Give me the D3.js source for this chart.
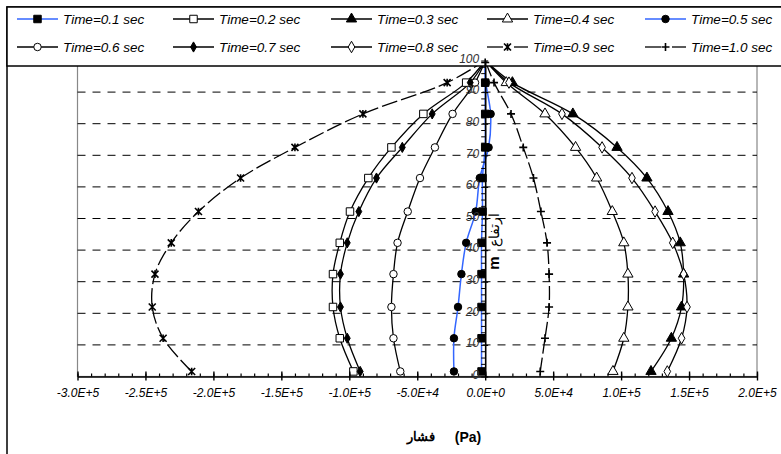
<!DOCTYPE html>
<html>
<head>
<meta charset="utf-8">
<script src="https://cdn.jsdelivr.net/npm/d3@7"></script>
<style>
html,body{margin:0;padding:0;background:#fff;}
svg{display:block;font-family:"Liberation Sans",Arial,sans-serif;}
</style>
</head>
<body>
<svg id="chart" width="781" height="454"></svg>
<script>
// ---- data ----
const heights = [1.6, 12.1, 22, 32.4, 42.3, 52.2, 62.8, 72.5, 83.1, 93, 100];
const seriesNames = ["Time=0.1 sec","Time=0.2 sec","Time=0.3 sec","Time=0.4 sec","Time=0.5 sec",
                     "Time=0.6 sec","Time=0.7 sec","Time=0.8 sec","Time=0.9 sec","Time=1.0 sec"];
const t01 = [-2700, -2700, -2700, -2700, -2700, -2000, -2000, 0, 0, 0, 0];
const t02 = [-97000, -107000, -112000, -112000, -107000, -99500, -86000, -69000, -45500, -14000, 0];
const t03 = [122000, 137000, 144500, 146000, 143500, 134500, 119000, 97000, 64500, 20000, 0];
const t04 = [94000, 102000, 105000, 105000, 102000, 93500, 82000, 66500, 44000, 15500, 0];
const t05 = [-23000, -23000, -20000, -17500, -14000, -7000, -4000, 2500, 4000, 500, 0];
const t06 = [-62500, -67500, -69000, -67500, -64500, -57000, -48000, -37000, -24000, -7500, 0];
const t07 = [-92000, -101500, -106500, -106500, -101500, -93000, -80000, -61000, -39000, -11000, 0];
const t08 = [134000, 144500, 148500, 146000, 138000, 125000, 108000, 86000, 56500, 17500, 0];
const t09 = [-216000, -237000, -245000, -243000, -231000, -211000, -180000, -140000, -90000, -28000, 0];
const t10 = [40500, 44000, 47000, 47000, 45500, 41000, 35500, 28000, 19000, 6500, 0];
const xMajorTicks = [-300000,-250000,-200000,-150000,-100000,-50000,0,50000,100000,150000,200000];
const yMajorTicks = [0,10,20,30,40,50,60,70,80,90,100];
const xTitleAr = "فشار";
const xTitleUnit = "(Pa)";
const yTitleAr = "ارتفاع";
const yTitleUnit = "m";

// ---- styles ----
const BLUE = "#3366FF";
const styles = [
  {line:BLUE, marker:"square", fill:"#000", dash:null},
  {line:"#000", marker:"square", fill:"#fff", dash:null},
  {line:"#000", marker:"triangle", fill:"#000", dash:null},
  {line:"#000", marker:"triangle", fill:"#fff", dash:null},
  {line:BLUE, marker:"circle", fill:"#000", dash:null},
  {line:"#000", marker:"circle", fill:"#fff", dash:null},
  {line:"#000", marker:"diamondS", fill:"#000", dash:null},
  {line:"#000", marker:"diamond", fill:"#fff", dash:null},
  {line:"#000", marker:"star", fill:"none", dash:"16,4"},
  {line:"#000", marker:"plus", fill:"none", dash:"14,4"}
];
const allValues = [t01,t02,t03,t04,t05,t06,t07,t08,t09,t10];

const svg = d3.select("#chart");
const x = d3.scaleLinear().domain([-300000,200000]).range([77.5,757]);
const y = d3.scaleLinear().domain([0,100]).range([376.5,60.5]);

function markerPath(type){
  switch(type){
    case "square": return d3.symbol(d3.symbolSquare, 56)();
    case "triangle": return d3.symbol(d3.symbolTriangle, 46)();
    case "circle": return d3.symbol(d3.symbolCircle, 44)();
    case "diamondS": return d3.symbol(d3.symbolDiamond, 30)();
    case "diamond": return d3.symbol(d3.symbolDiamond, 38)();
    case "star": return "M-3.5,-3.5L3.5,3.5M-3.5,3.5L3.5,-3.5M0,-3.8V3.8";
    case "plus": return "M-4,0H4M0,-4V4";
  }
}
function drawMarker(g, st, cx, cy){
  const p = g.append("path").attr("d", markerPath(st.marker))
    .attr("transform", `translate(${cx},${cy})`);
  if (st.marker==="star" || st.marker==="plus"){
    p.attr("fill","none").attr("stroke","#000").attr("stroke-width",1.6);
  } else {
    p.attr("fill", st.fill).attr("stroke","#000").attr("stroke-width",1);
  }
}

// outer frame
svg.append("rect").attr("x",7).attr("y",7).attr("width",790).attr("height",470)
  .attr("fill","none").attr("stroke","#000").attr("stroke-width",1.5);

// plot area border
svg.append("rect").attr("x",x(-300000)).attr("y",y(100)).attr("width",x(200000)-x(-300000))
  .attr("height",y(0)-y(100)).attr("fill","none").attr("stroke","#888").attr("stroke-width",1.2);

// gridlines
svg.append("g").selectAll("line").data(yMajorTicks.filter(v=>v>0 && v<100)).join("line")
  .attr("x1",x(-300000)).attr("x2",x(200000)).attr("y1",d=>y(d)).attr("y2",d=>y(d))
  .attr("stroke","#000").attr("stroke-width",1).attr("stroke-dasharray","8,7");

// series
const lineGen = d3.line().x(d=>x(d[0])).y(d=>y(d[1])).curve(d3.curveCatmullRom.alpha(0.5));
const gSeries = svg.append("g");
allValues.forEach((vals,i)=>{
  const st = styles[i];
  const pts = vals.map((v,j)=>[v,heights[j]]);
  gSeries.append("path").attr("d", lineGen(pts)).attr("fill","none")
    .attr("stroke", st.line).attr("stroke-width", st.line===BLUE?1.5:1.3)
    .attr("stroke-dasharray", st.dash);
});
allValues.forEach((vals,i)=>{
  const st = styles[i];
  vals.forEach((v,j)=>{ if (heights[j] < 100) drawMarker(gSeries, st, x(v), y(heights[j])); });
});

// x axis
const fmt = v => v.toExponential(1).replace("e","E");
const gx = svg.append("g").attr("transform",`translate(0,${y(0)})`);
const xMinor = d3.range(-300000, 200001, 10000);
gx.append("g").call(d3.axisTop(x).tickValues(xMinor).tickSizeInner(3).tickSizeOuter(0).tickFormat(""))
  .call(g=>g.select(".domain").remove())
  .call(g=>g.selectAll("line").attr("stroke","#000").attr("stroke-width",1.2));
gx.append("g").call(d3.axisBottom(x).tickValues(xMajorTicks).tickSizeInner(4).tickSizeOuter(0).tickPadding(8).tickFormat(fmt))
  .call(g=>g.select(".domain").attr("stroke","#000").attr("stroke-width",1.6))
  .call(g=>g.selectAll(".tick line").attr("y1",-5).attr("stroke","#000").attr("stroke-width",1.4))
  .call(g=>g.selectAll("text").attr("font-size",12).attr("font-style","italic")
    .attr("fill","#000").attr("font-family","Liberation Sans, Arial"));

// x title
svg.append("text").attr("x",421).attr("y",441).attr("text-anchor","middle")
  .attr("font-size",13).attr("font-weight","bold").attr("font-family","Liberation Sans, Arial")
  .text(xTitleAr);
svg.append("text").attr("x",468).attr("y",442).attr("text-anchor","middle")
  .attr("font-size",14).attr("font-weight","bold").attr("font-family","Liberation Sans, Arial")
  .text(xTitleUnit);

// legend
const lg = svg.append("g");
lg.append("rect").attr("x",7).attr("y",7).attr("width",790).attr("height",59)
  .attr("fill","#fff").attr("stroke","#000").attr("stroke-width",1.5);
const colX = [17,173,331,487,645];
const rowY = [19,47];
seriesNames.forEach((name,i)=>{
  const cx = colX[i%5], cy = rowY[Math.floor(i/5)];
  const st = styles[i];
  if (st.dash){
    lg.append("line").attr("x1",cx).attr("x2",cx+16).attr("y1",cy).attr("y2",cy)
      .attr("stroke",st.line).attr("stroke-width",1.3);
    lg.append("line").attr("x1",cx+27).attr("x2",cx+41).attr("y1",cy).attr("y2",cy)
      .attr("stroke",st.line).attr("stroke-width",1.3);
  } else {
    lg.append("line").attr("x1",cx).attr("x2",cx+41).attr("y1",cy).attr("y2",cy)
      .attr("stroke",st.line).attr("stroke-width",st.line===BLUE?1.5:1.3);
  }
  drawMarker(lg, st, cx+20.5, cy);
  lg.append("text").attr("x",cx+46).attr("y",cy+5).attr("font-size",13.5)
    .attr("font-style","italic").attr("font-family","Liberation Sans, Arial").text(name);
});

// y axis (drawn over legend, as in the reference)
const gy = svg.append("g").attr("transform",`translate(${x(0)},0)`);
gy.append("g").call(d3.axisLeft(y).tickValues(d3.range(0,101,2)).tickSizeInner(4).tickSizeOuter(0).tickFormat(""))
  .call(g=>g.selectAll("line").attr("stroke","#000").attr("stroke-width",1))
  .call(g=>g.select(".domain").attr("stroke","#000").attr("stroke-width",1.6));
gy.append("g").call(d3.axisLeft(y).tickValues(yMajorTicks).tickSizeInner(5).tickSizeOuter(0).tickPadding(1))
  .call(g=>g.select(".domain").remove())
  .call(g=>g.selectAll(".tick line").attr("x2",3).attr("stroke","#000").attr("stroke-width",1.2))
  .call(g=>g.selectAll("text").attr("font-size",12).attr("font-style","italic").attr("fill","#333")
    .attr("dy","0.15em").attr("font-family","Liberation Sans, Arial"));
// top plus marker for Time=1.0 sec
drawMarker(svg.append("g"), styles[9], x(t10[10]), y(heights[10])+2);

// y title (reads bottom-to-top: unit below, Arabic word above)
svg.append("text").attr("transform",`translate(499,230) rotate(-90)`).attr("text-anchor","middle")
  .attr("font-size",14).attr("font-family","Liberation Sans, Arial")
  .text(yTitleAr);
svg.append("text").attr("transform",`translate(499,263) rotate(-90)`).attr("text-anchor","middle")
  .attr("font-size",15).attr("font-weight","bold").attr("font-family","Liberation Sans, Arial")
  .text(yTitleUnit);
</script>
</body>
</html>
